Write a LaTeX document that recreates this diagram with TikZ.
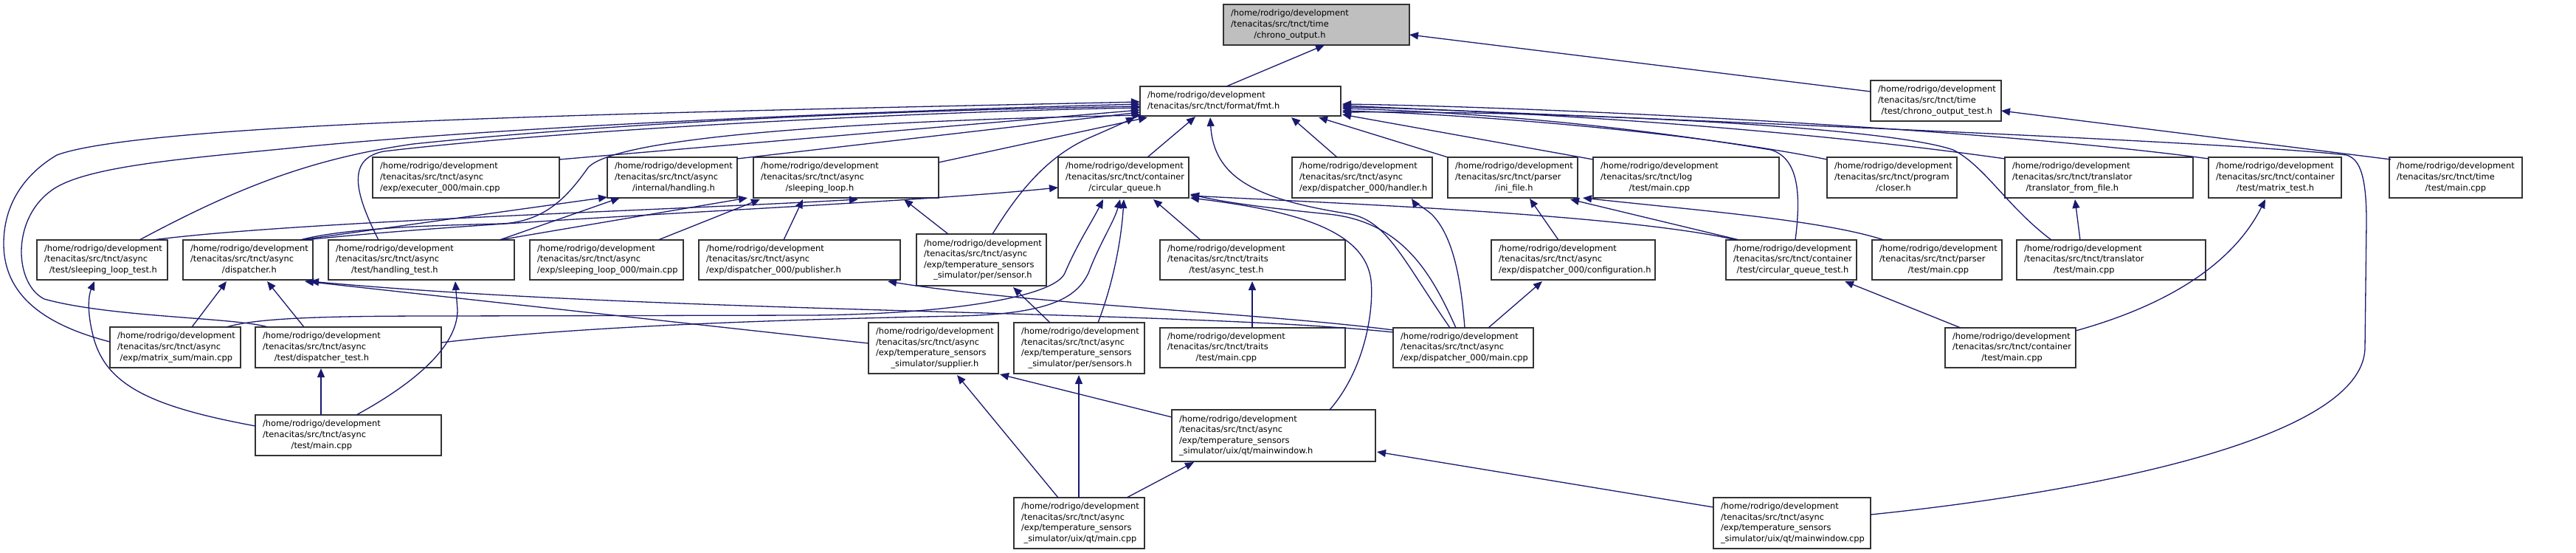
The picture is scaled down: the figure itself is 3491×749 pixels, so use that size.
\documentclass[tikz,border=0pt]{standalone}
\usepackage{fontspec}
\setmainfont{DejaVu Sans}
\usetikzlibrary{arrows.meta,calc}
\definecolor{edgeblue}{HTML}{191970}
\newcommand{\hr}{/home/rodrigo/development}
\newcommand{\lbB}[2]{\begin{tabular}{@{}l@{}}#1\\\multicolumn{1}{@{}c@{}}{#2}\end{tabular}}
\newcommand{\lbC}[3]{\begin{tabular}{@{}l@{}}#1\\#2\\\multicolumn{1}{@{}c@{}}{#3}\end{tabular}}
\newcommand{\lbD}[4]{\begin{tabular}{@{}l@{}}#1\\#2\\#3\\\multicolumn{1}{@{}c@{}}{#4}\end{tabular}}
\newcommand{\regnode}[3]{\expandafter\xdef\csname nL#1\endcsname{#2}\expandafter\xdef\csname nT#1\endcsname{#3}}
\newcommand{\pp}[3]{($(#1.north west)+({#2-\csname nL#1\endcsname},{#3-\csname nT#1\endcsname})$)}
\newcommand{\gnode}[7][white]{\regnode{#2}{#3}{#4}\node[gbox,fill=#1,minimum width={#5pt-#3pt},minimum height={#6pt-#4pt},anchor=north west] (#2) at (#3,#4) {\makebox[\dimexpr#5pt-#3pt-20pt\relax][l]{#7}};}
\tikzset{
  gbox/.style={rectangle,draw=black!80,line width=1.5pt,inner xsep=10pt,inner ysep=2pt,outer sep=0pt,
    font=\fontsize{11.4pt}{14.6pt}\selectfont},
  dep/.style={draw=edgeblue,line width=1.3pt,-{Triangle[length=12pt,width=10pt]}}
}
\begin{document}
\begin{tikzpicture}[x=1pt,y=-1pt]
\useasboundingbox (0,0) rectangle (3491,749);
\fill[white] (0,0) rectangle (3491,749);
% row 0-1
\gnode[black!25]{root}{1658}{6}{1910}{61}{\lbC{\hr}{/tenacitas/src/tnct/time}{/chrono\_output.h}}
\gnode{fmt}{1545}{117}{1817}{157}{\lbB{\hr}{/tenacitas/src/tnct/format/fmt.h}}
\gnode{cotest}{2535}{109}{2712}{164}{\lbC{\hr}{/tenacitas/src/tnct/time}{/test/chrono\_output\_test.h}}
% row 2
\gnode{exec}{505}{213}{758}{268}{\lbC{\hr}{/tenacitas/src/tnct/async}{/exp/executer\_000/main.cpp}}
\gnode{handling}{823}{213}{999}{268}{\lbC{\hr}{/tenacitas/src/tnct/async}{/internal/handling.h}}
\gnode{sloop}{1021}{213}{1272}{268}{\lbC{\hr}{/tenacitas/src/tnct/async}{/sleeping\_loop.h}}
\gnode{cq}{1434}{213}{1611}{268}{\lbC{\hr}{/tenacitas/src/tnct/container}{/circular\_queue.h}}
\gnode{handler}{1751}{213}{1941}{268}{\lbC{\hr}{/tenacitas/src/tnct/async}{/exp/dispatcher\_000/handler.h}}
\gnode{ini}{1962}{213}{2138}{268}{\lbC{\hr}{/tenacitas/src/tnct/parser}{/ini\_file.h}}
\gnode{logmain}{2159}{213}{2411}{268}{\lbC{\hr}{/tenacitas/src/tnct/log}{/test/main.cpp}}
\gnode{closer}{2476}{213}{2652}{268}{\lbC{\hr}{/tenacitas/src/tnct/program}{/closer.h}}
\gnode{tff}{2717}{213}{2972}{268}{\lbC{\hr}{/tenacitas/src/tnct/translator}{/translator\_from\_file.h}}
\gnode{mtest}{2993}{213}{3173}{268}{\lbC{\hr}{/tenacitas/src/tnct/container}{/test/matrix\_test.h}}
\gnode{timemain}{3238}{213}{3418}{268}{\lbC{\hr}{/tenacitas/src/tnct/time}{/test/main.cpp}}
% row 3
\gnode{slt}{50}{325}{227}{379}{\lbC{\hr}{/tenacitas/src/tnct/async}{/test/sleeping\_loop\_test.h}}
\gnode{disp}{248}{325}{424}{379}{\lbC{\hr}{/tenacitas/src/tnct/async}{/dispatcher.h}}
\gnode{htest}{445}{325}{697}{379}{\lbC{\hr}{/tenacitas/src/tnct/async}{/test/handling\_test.h}}
\gnode{slmain}{718}{325}{926}{379}{\lbC{\hr}{/tenacitas/src/tnct/async}{/exp/sleeping\_loop\_000/main.cpp}}
\gnode{pub}{947}{325}{1220}{379}{\lbC{\hr}{/tenacitas/src/tnct/async}{/exp/dispatcher\_000/publisher.h}}
\gnode{sensor}{1242}{317}{1418}{387}{\lbD{\hr}{/tenacitas/src/tnct/async}{/exp/temperature\_sensors}{\_simulator/per/sensor.h}}
\gnode{asynctest}{1572}{325}{1823}{379}{\lbC{\hr}{/tenacitas/src/tnct/traits}{/test/async\_test.h}}
\gnode{config}{2021}{325}{2243}{379}{\lbC{\hr}{/tenacitas/src/tnct/async}{/exp/dispatcher\_000/configuration.h}}
\gnode{cqtest}{2339}{325}{2516}{379}{\lbC{\hr}{/tenacitas/src/tnct/container}{/test/circular\_queue\_test.h}}
\gnode{parsermain}{2537}{325}{2713}{379}{\lbC{\hr}{/tenacitas/src/tnct/parser}{/test/main.cpp}}
\gnode{trmain}{2733}{325}{2989}{379}{\lbC{\hr}{/tenacitas/src/tnct/translator}{/test/main.cpp}}
% row 4
\gnode{msum}{149}{443}{326}{498}{\lbC{\hr}{/tenacitas/src/tnct/async}{/exp/matrix\_sum/main.cpp}}
\gnode{dtest}{346}{443}{598}{498}{\lbC{\hr}{/tenacitas/src/tnct/async}{/test/dispatcher\_test.h}}
\gnode{supplier}{1177}{437}{1353}{506}{\lbD{\hr}{/tenacitas/src/tnct/async}{/exp/temperature\_sensors}{\_simulator/supplier.h}}
\gnode{sensors}{1374}{437}{1551}{506}{\lbD{\hr}{/tenacitas/src/tnct/async}{/exp/temperature\_sensors}{\_simulator/per/sensors.h}}
\gnode{traitsmain}{1572}{444}{1823}{498}{\lbC{\hr}{/tenacitas/src/tnct/traits}{/test/main.cpp}}
\gnode{d0main}{1888}{444}{2078}{498}{\lbC{\hr}{/tenacitas/src/tnct/async}{/exp/dispatcher\_000/main.cpp}}
\gnode{cmain}{2636}{444}{2813}{498}{\lbC{\hr}{/tenacitas/src/tnct/container}{/test/main.cpp}}
% row 5-6
\gnode{mwh}{1588}{555}{1864}{625}{\lbD{\hr}{/tenacitas/src/tnct/async}{/exp/temperature\_sensors}{\_simulator/uix/qt/mainwindow.h}}
\gnode{atmain}{346}{562}{598}{617}{\lbC{\hr}{/tenacitas/src/tnct/async}{/test/main.cpp}}
\gnode{qtmain}{1374}{674}{1551}{743}{\lbD{\hr}{/tenacitas/src/tnct/async}{/exp/temperature\_sensors}{\_simulator/uix/qt/main.cpp}}
\gnode{mwcpp}{2322}{674}{2535}{743}{\lbD{\hr}{/tenacitas/src/tnct/async}{/exp/temperature\_sensors}{\_simulator/uix/qt/mainwindow.cpp}}

% edges to root and cotest
\draw[dep] \pp{fmt}{1662}{117} -- \pp{root}{1795}{61};
\draw[dep] \pp{cotest}{2535}{124} -- \pp{root}{1910}{47};
\draw[dep] \pp{timemain}{3240}{216} -- \pp{cotest}{2712}{150};
% edges to fmt
\draw[dep] \pp{msum}{149}{463} .. controls (60,440) and (5,400) .. (5,330) .. controls (5,270) and (40,232) .. (77,210) .. controls (200,165) and (900,152) .. \pp{fmt}{1545}{138};
\draw[dep] \pp{dtest}{363}{443} .. controls (320,430) and (150,430) .. (60,405) .. controls (20,385) and (15,300) .. (67,260) .. controls (110,225) and (250,215) .. (400,200) .. controls (700,170) and (1200,150) .. \pp{fmt}{1545}{141};
\draw[dep] \pp{slt}{189}{325} .. controls (320,255) and (420,215) .. (560,195) .. controls (900,160) and (1300,148) .. \pp{fmt}{1545}{144};
\draw[dep] \pp{htest}{513}{325} .. controls (480,260) and (470,215) .. (520,205) .. controls (800,172) and (1300,150) .. \pp{fmt}{1545}{146};
\draw[dep] \pp{exec}{758}{216} -- \pp{fmt}{1545}{149};
\draw[dep] \pp{handling}{999}{215} -- \pp{fmt}{1545}{152};
\draw[dep] \pp{disp}{407}{325} .. controls (470,308) and (600,305) .. (680,303) .. controls (740,300) and (770,265) .. (797,227) .. controls (830,190) and (1100,165) .. \pp{fmt}{1547}{156};
\draw[dep] \pp{sloop}{1272}{220} -- \pp{fmt}{1555}{159};
\draw[dep] \pp{sensor}{1345}{317} .. controls (1380,260) and (1420,210) .. (1480,185) .. controls (1510,172) and (1525,165) .. \pp{fmt}{1538}{159};
\draw[dep] \pp{cq}{1555}{213} -- \pp{fmt}{1620}{158};
\draw[dep] \pp{handler}{1812}{213} -- \pp{fmt}{1750}{159};
\draw[dep] \pp{ini}{1962}{213} -- \pp{fmt}{1787}{159};
\draw[dep] \pp{logmain}{2159}{216} -- \pp{fmt}{1819}{155};
\draw[dep] \pp{closer}{2476}{216} .. controls (2300,180) and (2000,155) .. \pp{fmt}{1819}{150};
\draw[dep] \pp{tff}{2717}{215} .. controls (2400,170) and (2000,148) .. \pp{fmt}{1819}{145};
\draw[dep] \pp{mtest}{2993}{215} .. controls (2700,175) and (2100,145) .. \pp{fmt}{1819}{141};
\draw[dep] \pp{cqtest}{2433}{325} .. controls (2440,270) and (2440,215) .. (2400,203) .. controls (2200,170) and (2000,152) .. \pp{fmt}{1819}{147};
\draw[dep] \pp{trmain}{2780}{325} .. controls (2720,280) and (2690,225) .. (2647,203) .. controls (2550,170) and (2100,150) .. \pp{fmt}{1819}{152};
\draw[dep] \pp{mwcpp}{2535}{697} .. controls (2800,670) and (3205,600) .. (3205,470) -- (3207,300) .. controls (3207,230) and (3195,215) .. (3180,210) .. controls (3000,190) and (2200,160) .. \pp{fmt}{1819}{143};
\draw[dep] \pp{d0main}{1965}{444} .. controls (1900,350) and (1880,300) .. (1830,290) .. controls (1700,270) and (1645,240) .. \pp{fmt}{1640}{159};
% async internals
\draw[dep] \pp{disp}{407}{325} -- \pp{handling}{823}{267};
\draw[dep] \pp{htest}{677}{325} -- \pp{handling}{840}{268};
\draw[dep] \pp{htest}{677}{325} -- \pp{sloop}{1013}{268};
\draw[dep] \pp{slmain}{892}{325} -- \pp{sloop}{1030}{270};
\draw[dep] \pp{pub}{1062}{325} -- \pp{sloop}{1088}{270};
\draw[dep] \pp{sensor}{1285}{317} -- \pp{sloop}{1225}{270};
\draw[dep] \pp{slt}{207}{325} .. controls (400,300) and (900,285) .. \pp{sloop}{1163}{270};
\draw[dep] \pp{disp}{413}{325} .. controls (700,295) and (1200,278) .. \pp{cq}{1434}{254};
\draw[dep] \pp{atmain}{346}{577} .. controls (200,550) and (140,520) .. (125,450) .. controls (118,420) and (120,400) .. \pp{slt}{128}{381};
\draw[dep] \pp{atmain}{435}{562} -- \pp{dtest}{435}{499};
\draw[dep] \pp{atmain}{483}{562} .. controls (560,520) and (620,470) .. (620,420) -- \pp{htest}{617}{381};
\draw[dep] \pp{msum}{260}{443} -- \pp{disp}{307}{381};
\draw[dep] \pp{dtest}{412}{443} -- \pp{disp}{362}{381};
\draw[dep] \pp{supplier}{1177}{465} -- \pp{disp}{413}{381};
\draw[dep] \pp{d0main}{1888}{450} .. controls (1600,420) and (900,425) .. \pp{disp}{420}{381};
\draw[dep] \pp{d0main}{1888}{447} .. controls (1700,423) and (1393,412) .. \pp{pub}{1203}{381};
\draw[dep] \pp{d0main}{1985}{444} .. controls (1980,380) and (1970,320) .. (1940,290) .. controls (1925,278) and (1915,272) .. \pp{handler}{1913}{269};
\draw[dep] \pp{d0main}{2017}{444} -- \pp{config}{2090}{381};
% circular queue
\draw[dep] \pp{msum}{307}{443} .. controls (350,430) and (450,428) .. (600,428) -- (1100,427) .. controls (1300,425) and (1430,400) .. (1443,370) .. controls (1460,330) and (1480,300) .. \pp{cq}{1495}{270};
\draw[dep] \pp{dtest}{598}{464} .. controls (800,440) and (1100,432) .. (1300,428) .. controls (1430,425) and (1460,400) .. (1475,370) .. controls (1490,330) and (1510,300) .. \pp{cq}{1518}{270};
\draw[dep] \pp{sensors}{1488}{437} .. controls (1510,380) and (1520,320) .. \pp{cq}{1523}{270};
\draw[dep] \pp{asynctest}{1627}{325} -- \pp{cq}{1563}{270};
\draw[dep] \pp{d0main}{1973}{444} .. controls (1940,370) and (1900,300) .. (1800,290) .. controls (1700,280) and (1650,272) .. \pp{cq}{1613}{263};
\draw[dep] \pp{mwh}{1802}{555} .. controls (1850,500) and (1862,420) .. (1858,380) .. controls (1850,310) and (1750,285) .. \pp{cq}{1613}{268};
\draw[dep] \pp{cqtest}{2353}{325} .. controls (2200,290) and (1800,275) .. \pp{cq}{1613}{265};
% parser
\draw[dep] \pp{cqtest}{2357}{325} -- \pp{ini}{2128}{270};
\draw[dep] \pp{parsermain}{2553}{325} .. controls (2470,298) and (2300,285) .. \pp{ini}{2145}{268};
\draw[dep] \pp{config}{2112}{325} -- \pp{ini}{2073}{269};
% others
\draw[dep] \pp{traitsmain}{1697}{444} -- \pp{asynctest}{1697}{381};
\draw[dep] \pp{sensors}{1423}{437} -- \pp{sensor}{1373}{389};
\draw[dep] \pp{mwh}{1588}{565} -- \pp{supplier}{1355}{507};
\draw[dep] \pp{qtmain}{1434}{674} -- \pp{supplier}{1297}{508};
\draw[dep] \pp{qtmain}{1462}{674} -- \pp{sensors}{1462}{508};
\draw[dep] \pp{qtmain}{1527}{674} -- \pp{mwh}{1618}{626};
\draw[dep] \pp{mwcpp}{2322}{687} -- \pp{mwh}{1866}{612};
\draw[dep] \pp{cmain}{2657}{444} -- \pp{cqtest}{2500}{381};
\draw[dep] \pp{cmain}{2813}{448} .. controls (2950,410) and (3030,350) .. \pp{mtest}{3070}{270};
\draw[dep] \pp{trmain}{2819}{325} -- \pp{tff}{2812}{270};
\end{tikzpicture}
\end{document}
